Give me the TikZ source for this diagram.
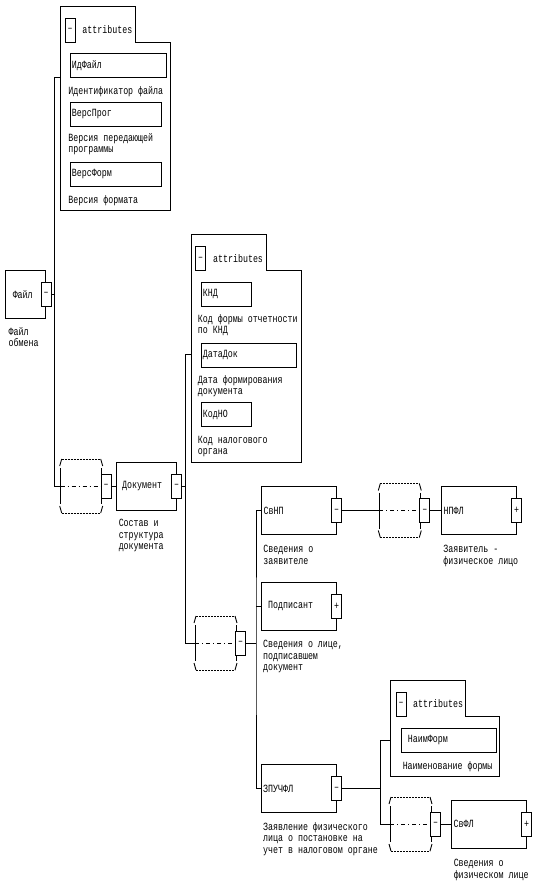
\documentclass[tikz,border=0pt]{standalone}
\usepackage{fontspec}
\setmainfont{Liberation Mono}[FakeStretch=0.755]

\begin{document}
\begin{tikzpicture}[x=1pt, y=-1pt, line width=0.9pt,
  font=\fontsize{11}{11.5}\selectfont,
  elem/.style={draw, fill=white, minimum height=48pt, inner ysep=0pt, align=left, anchor=west},
  sgn/.style={draw, fill=white, minimum width=10pt, minimum height=24pt, inner sep=0pt},
  attr/.style={draw, minimum height=24pt, inner xsep=2pt, inner ysep=0pt, align=left, anchor=west},
  note/.style={anchor=base west, inner sep=0pt, align=left},
  seqdash/.style={dash pattern=on 2pt off 1pt},
  seqmid/.style={dash pattern=on 4pt off 3pt on 1pt off 3pt},
  seqsym/.pic={
    \draw (-1,-20) -- (1,-27);
    \draw[seqdash] (1,-27) -- (40,-27);
    \draw (40,-27) -- (42,-20);
    \draw (-1,20) -- (1,27);
    \draw[seqdash] (1,27) -- (40,27);
    \draw (40,27) -- (42,20);
    \draw (0,-18) -- (0,18);
    \draw (41,-18) -- (41,18);
    \draw[seqmid] (0,0) -- (40.5,0);
    \node[sgn] (-s) at (45.5,0) {–};
    \coordinate (-in) at (0,0);
  }]
  \useasboundingbox (0,0) rectangle (539,883);

  % attributes of Файл
  \draw (60,6) -- (135.7,6) -- (135.7,42) -- (170.7,42) -- (170.7,210.7) -- (60,210.7) -- cycle;
  \node[sgn] (attrA-s) at (70,30) {–};
  \node[anchor=west, inner sep=0pt] (attrA-t) at (82,30) {attributes};
  \coordinate (attrA) at (60,77.7);
  \node[attr, text width=92.7pt] (idfajl) at (69.5,65.8) {ИдФайл};
  \node[note] (idfajl-n) at (68,94) {Идентификатор файла};
  \node[attr, text width=87pt] (versprog) at (69.5,114.3) {ВерсПрог};
  \node[note] (versprog-n) at (68,152.5) {Версия передающей\\программы};
  \node[attr, text width=87pt] (versform) at (69.5,174.3) {ВерсФорм};
  \node[note] (versform-n) at (68,203) {Версия формата};

  % Файл
  \node[elem, inner xsep=7pt, text width=26pt] (fajl) at (5.3,294.2) {Файл};
  \node[sgn] (fajl-s) at (fajl.east) {–};
  \node[note] (fajl-n) at (8.3,346.5) {Файл\\обмена};

  % attributes of Документ
  \draw (191,234) -- (266,234) -- (266,270.7) -- (301,270.7) -- (301,462.3) -- (191,462.3) -- cycle;
  \node[sgn] (attrB-s) at (200.7,258.7) {–};
  \node[anchor=west, inner sep=0pt] (attrB-t) at (212.7,258.7) {attributes};
  \coordinate (attrB) at (191,354);
  \node[attr, text width=46pt] (knd) at (200.5,294.2) {КНД};
  \node[note] (knd-n) at (197.5,333.5) {Код формы отчетности\\по КНД};
  \node[attr, text width=91pt] (datadok) at (200.5,355) {ДатаДок};
  \node[note] (datadok-n) at (197.5,394.5) {Дата формирования\\документа};
  \node[attr, text width=46pt] (kodno) at (200.5,414.5) {КодНО};
  \node[note] (kodno-n) at (197.5,454.5) {Код налогового\\органа};

  % Документ
  \pic (seqA) at (60.7,486) {seqsym};
  \node[elem, inner xsep=6pt, text width=48pt] (doc) at (115.7,486) {Документ};
  \node[sgn] (doc-s) at (doc.east) {–};
  \node[note] (doc-n) at (118.3,549.5) {Состав и\\структура\\документа};

  % СвНП, Подписант, ЗПУЧФЛ
  \pic (seqB) at (195,643) {seqsym};
  \node[elem, inner xsep=2.5pt, text width=70pt] (svnp) at (260.7,510.5) {СвНП};
  \node[sgn] (svnp-s) at (svnp.east) {–};
  \node[note] (svnp-n) at (263,564) {Сведения о\\заявителе};
  \pic (seqC) at (379.3,510.5) {seqsym};
  \node[elem, inner xsep=2.5pt, text width=70pt] (npfl) at (440.7,510.5) {НПФЛ};
  \node[sgn] (npfl-s) at (npfl.east) {+};
  \node[note] (npfl-n) at (443,564) {Заявитель -\\физическое лицо};
  \node[elem, inner xsep=7pt, text width=61pt] (podp) at (260.7,606.2) {Подписант};
  \node[sgn] (podp-s) at (podp.east) {+};
  \node[note] (podp-n) at (262.7,670.5) {Сведения о лице,\\подписавшем\\документ};
  \node[elem, inner xsep=2pt, text width=71pt] (zpuchfl) at (260.7,788.5) {ЗПУЧФЛ};
  \node[sgn] (zpuchfl-s) at (zpuchfl.east) {–};
  \node[note] (zpuchfl-n) at (262.7,853) {Заявление физического\\лица о постановке на\\учет в налоговом органе};

  % attributes of ЗПУЧФЛ
  \draw (390.7,680) -- (465.5,680) -- (465.5,716) -- (499.3,716) -- (499.3,776) -- (390.7,776) -- cycle;
  \node[sgn] (attrC-s) at (401,704) {–};
  \node[anchor=west, inner sep=0pt] (attrC-t) at (412.7,704) {attributes};
  \coordinate (attrC) at (390.7,740.7);
  \node[attr, inner xsep=7pt, text width=81pt] (naimform) at (400.5,740.3) {НаимФорм};
  \node[note] (naimform-n) at (402.3,769) {Наименование формы};
  \pic (seqD) at (390,824) {seqsym};
  \node[elem, inner xsep=2.5pt, text width=70pt] (svfl) at (450.7,824) {СвФЛ};
  \node[sgn] (svfl-s) at (svfl.east) {+};
  \node[note] (svfl-n) at (453.3,878) {Сведения о\\физическом лице};

  % connectors
  \coordinate (busA) at (54.3,294.2);
  \draw (fajl-s.east) -- (busA);
  \draw (attrA) -| (busA) |- (seqA-in);
  \draw (seqA-s.east) -- (doc.west);
  \coordinate (busB) at (185.3,486);
  \draw (doc-s.east) -- (busB);
  \draw (attrB) -| (busB) |- (seqB-in);
  \coordinate (busC) at (256,643);
  \draw (seqB-s.east) -- (busC);
  \draw (svnp.west) -| (busC) |- (zpuchfl.west);
  \draw (podp.west) -- (podp.west -| busC);
  \draw (svnp-s.east) -- (seqC-in);
  \draw (seqC-s.east) -- (npfl.west);
  \coordinate (busD) at (380.7,788.5);
  \draw (zpuchfl-s.east) -- (busD);
  \draw (attrC) -| (busD) |- (seqD-in);
  \draw (seqD-s.east) -- (svfl.west);
\end{tikzpicture}
\end{document}
